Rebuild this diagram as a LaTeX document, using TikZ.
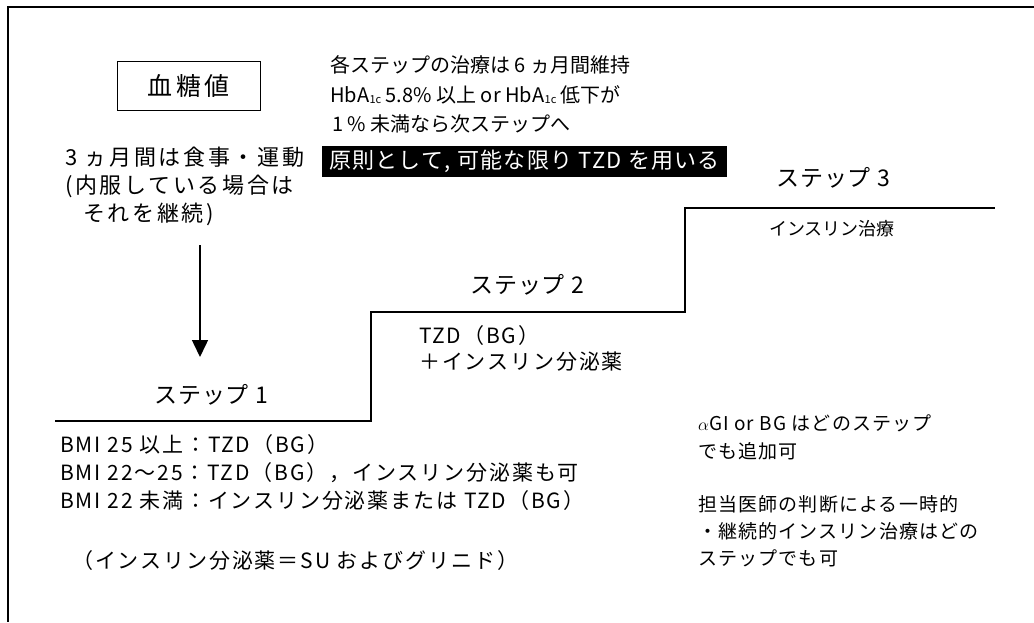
\documentclass[tikz,border=0pt]{standalone}
\usepackage{fontspec}
\setmainfont{Noto Sans CJK JP}
\usetikzlibrary{arrows.meta}
\newcommand{\hba}{HbA\kern0.3pt\raisebox{-1pt}{\fontsize{11}{11}\selectfont 1c}}
\newcommand{\ls}[1]{\addfontfeature{LetterSpace=#1}}
\tikzset{
  txt/.style={inner sep=0pt, align=left, anchor=north west},
  steplabel/.style={inner sep=0pt, font={\fontsize{23}{23}\selectfont\ls{4}}},
  stair/.style={line width=1.2pt},
  frameline/.style={line width=1.5pt},
  valbox/.style={draw, line width=1pt, minimum width=143pt, minimum height=49pt, inner sep=0pt, font={\fontsize{25}{25}\selectfont\ls{14}}},
  blackbox/.style={fill=black, text=white, minimum width=405pt, minimum height=31pt, inner sep=0pt, font={\fontsize{22}{22}\selectfont\ls{6}}},
  downarrow/.style={line width=1.5pt, -{Triangle[width=16pt,length=17pt]}},
  bodytxt/.style={font={\fontsize{21}{28}\selectfont\ls{9}}}
}
\begin{document}
\begin{tikzpicture}[x=1pt,y=-1pt]
\useasboundingbox (0,0) rectangle (1034,622);
% frame
\coordinate (fTR) at (1034,7);
\coordinate (fTL) at (8,7);
\coordinate (fBL) at (8,622);
\draw[frameline] (fTR) -- (fTL) -- (fBL);

% top-left box
\node[valbox] (val) at (188.5,86) {血糖値};

% left column
\node[txt, font={\fontsize{22}{28}\selectfont\ls{12}}] (diet) at (65,147)
  {3 ヵ月間は食事・運動\\(内服している場合は\\\hspace{18pt}それを継続)};

% top text
\node[txt, font={\fontsize{20}{29.5}\selectfont}] (rule) at (330,55.6)
  {各ステップの治療は 6 ヵ月間維持\\\hba{} 5.8\% 以上 or \hba{} 低下が\\\hspace{2pt}1 \% 未満なら次ステップへ};
\node[blackbox] (tzd) at (524.5,161) {原則として, 可能な限り TZD を用いる};

% arrow
\coordinate (aS) at (200,245);
\coordinate (aE) at (200,357);
\draw[downarrow] (aS) -- (aE);

% stairs
\coordinate (s1a) at (55,421);
\coordinate (s1b) at (371,421);
\coordinate (s2a) at (371,312);
\coordinate (s2b) at (685,312);
\coordinate (s3a) at (685,208);
\coordinate (s3b) at (995,208);
\draw[stair] (s1a) -- (s1b) -- (s2a) -- (s2b) -- (s3a) -- (s3b);

% step labels
\node[steplabel] (st1) at (211,395) {ステップ 1};
\node[steplabel] (st2) at (527,285) {ステップ 2};
\node[steplabel] (st3) at (833,178) {ステップ 3};

% step contents
\node[inner sep=0pt, font={\fontsize{18}{18}\selectfont}] (ins) at (832,229) {インスリン治療};
\node[txt, font={\fontsize{21}{26}\selectfont\ls{9}}] (st2c) at (419,325)
  {TZD（BG）\\＋インスリン分泌薬};
\node[txt, bodytxt] (st1c) at (60,434)
  {BMI 25 以上：TZD（BG）\\BMI 22～25：TZD（BG），インスリン分泌薬も可\\BMI 22 未満：インスリン分泌薬または TZD（BG）};
\node[txt, bodytxt] (note) at (72,550)
  {（インスリン分泌薬＝SU およびグリニド）};

% right notes
\node[txt, font={\fontsize{19}{28}\selectfont\ls{6}}] (agi) at (698,415)
  {$\alpha$GI or BG はどのステップ\\でも追加可};
\node[txt, font={\fontsize{19}{27}\selectfont\ls{6}}] (doc) at (698,495)
  {担当医師の判断による一時的\\・継続的インスリン治療はどの\\ステップでも可};
\end{tikzpicture}
\end{document}
